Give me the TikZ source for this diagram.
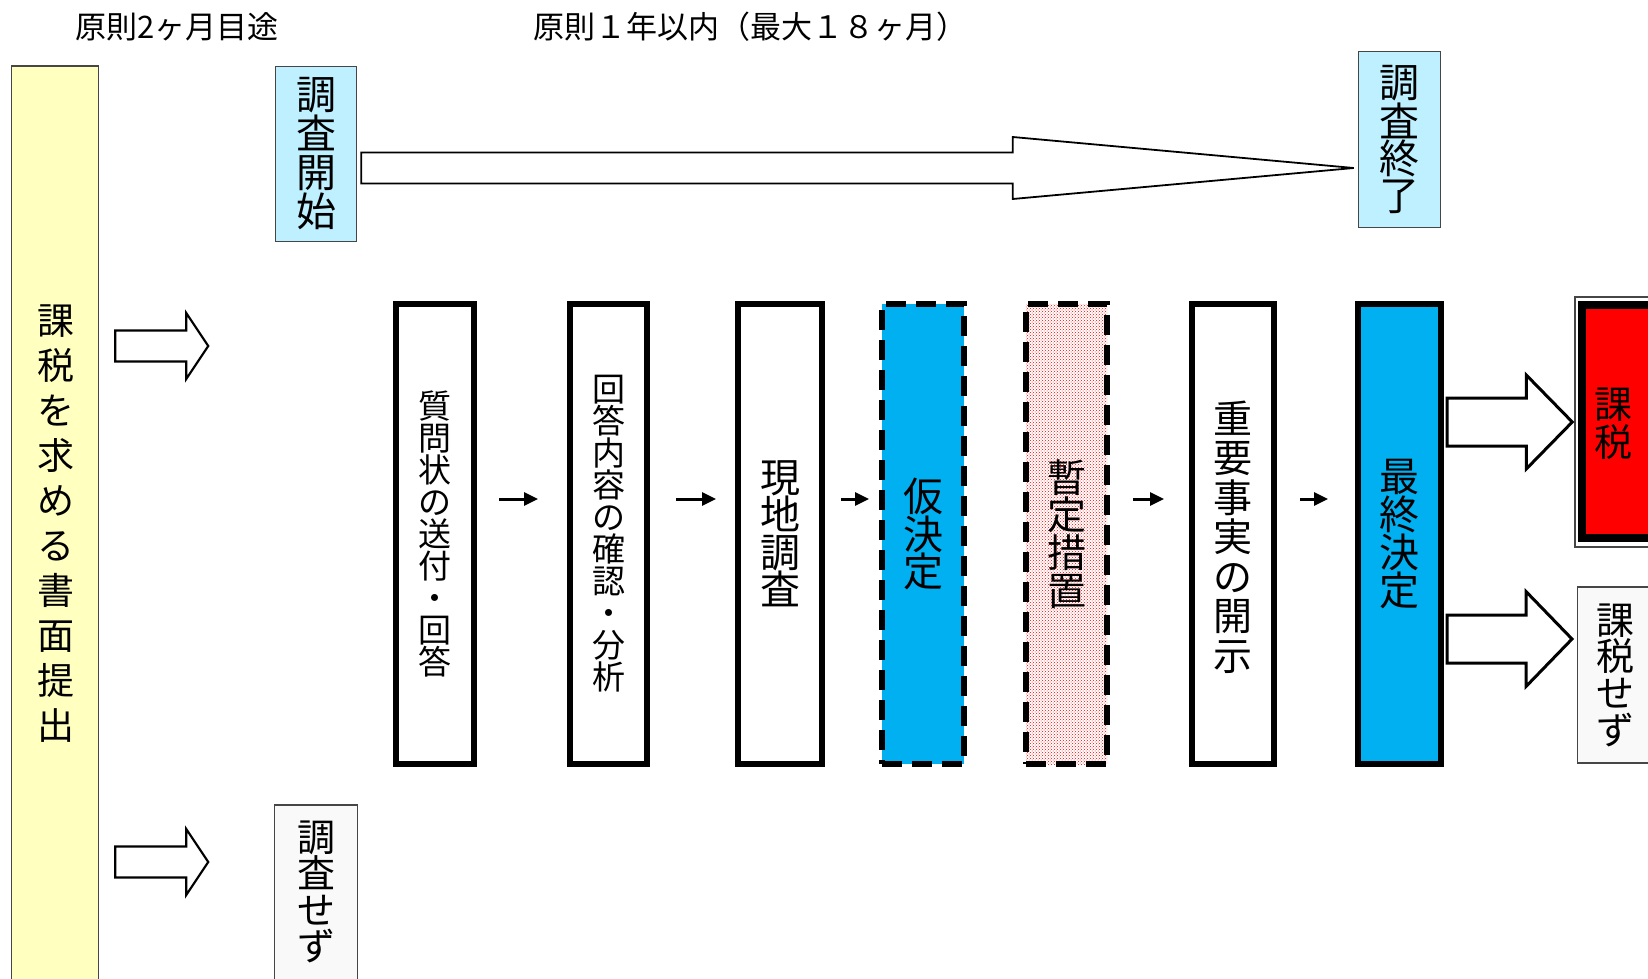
\documentclass[tikz,border=0pt]{standalone}
\usepackage{fontspec}
\setmainfont{Noto Sans CJK JP}
\usetikzlibrary{calc,arrows.meta,patterns}
\definecolor{ybox}{RGB}{255,255,192}
\definecolor{lblue}{RGB}{191,240,255}
\definecolor{dblue}{RGB}{0,176,240}
\definecolor{gfill}{RGB}{249,249,249}
\definecolor{edge}{RGB}{70,70,70}
\newcommand\vfs[2]{\fontsize{#1pt}{#2pt}\selectfont}
\newcommand\barr[6]{\draw[barrow,line width=#6] ($(#1)+(0,-#3)$) -- ($(#2)+(-#5,-#3)$) -- ($(#2)+(-#5,-#4)$) -- (#2) -- ($(#2)+(-#5,#4)$) -- ($(#2)+(-#5,#3)$) -- ($(#1)+(0,#3)$) -- cycle;}
\begin{document}
\begin{tikzpicture}[x=1pt,y=-1pt,
  thinbox/.style={draw=edge,line width=1.5pt,inner sep=0pt,align=center},
  proc/.style={draw=black,line width=6pt,inner sep=0pt,minimum height=460pt,align=center,fill=white},
  dbox/.style={proc,dash pattern=on 20pt off 10pt},
  barrow/.style={draw=black,fill=white,line join=miter},
  sarr/.style={line width=3pt,-{Triangle[length=14pt,width=13pt]}},
  lbl/.style={inner sep=0pt,align=center}
]
\useasboundingbox (0,0) rectangle (1648,979);
\clip (0,0) rectangle (1648,979);
\fill[white] (0,0) rectangle (1648,979);

% headers
\node[lbl,font=\vfs{31}{32},anchor=west] (h1) at (75,27) {原則2ヶ月目途};
\node[lbl,font=\vfs{31}{32},anchor=west] (h2) at (533,27) {原則１年以内（最大１８ヶ月）};

% left request box
\node[thinbox,fill=ybox,minimum width=87pt,minimum height=930pt] (req) at (55,531) {};
\node[lbl,font=\vfs{37}{45}] (reqt) at (56,524) {課\\税\\を\\求\\め\\る\\書\\面\\提\\出};

% start / end / no survey
\node[thinbox,fill=lblue,minimum width=81pt,minimum height=175pt,font=\vfs{40}{39}] (start) at (316,154) {調\\査\\開\\始};
\node[thinbox,fill=lblue,minimum width=82pt,minimum height=176pt,font=\vfs{40}{37}] (end) at (1399.5,139.5) {調\\査\\終\\了};
\node[thinbox,fill=gfill,minimum width=83pt,minimum height=190pt] (nos) at (316,900) {};
\node[lbl,font=\vfs{38}{36.5}] (nost) at (316,892) {調\\査\\せ\\ず};

% process boxes
\node[proc,minimum width=78pt,font=\vfs{33}{32}] (b1) at (435,534) {質\\問\\状\\の\\送\\付\\・\\回\\答};
\node[proc,minimum width=77pt,font=\vfs{33}{32}] (b2) at (608.5,534) {回\\答\\内\\容\\の\\確\\認\\・\\分\\析};
\node[proc,minimum width=84pt,font=\vfs{40}{37.5}] (b3) at (780,534) {現\\地\\調\\査};
\node[dbox,fill=dblue,minimum width=82pt,font=\vfs{40}{36.5}] (kari) at (923,534) {仮\\決\\定};
\node[dbox,fill=none,preaction={fill=white},pattern=crosshatch dots,pattern color=red,minimum width=81pt] (zan) at (1066.5,534) {};
\node[lbl,font=\vfs{39}{37.7}] (zant) at (1066.5,534) {暫\\定\\措\\置};
\node[proc,minimum width=82pt] (juyo) at (1233,534) {};
\node[lbl,font=\vfs{39}{39.5}] (juyot) at (1233,537) {重\\要\\事\\実\\の\\開\\示};
\node[proc,fill=dblue,minimum width=83pt,font=\vfs{40}{38}] (sai) at (1399.5,534) {最\\終\\決\\定};

% outcomes
\node[draw=edge,line width=1.5pt,minimum width=130pt,minimum height=250pt,inner sep=0pt] (taxf) at (1640,422) {};
\node[draw=black,line width=8pt,fill=red,minimum width=110pt,minimum height=233pt,inner sep=0pt] (tax) at (1637,421.5) {};
\node[lbl,font=\vfs{38}{38}] (taxt) at (1613,424) {課\\税};
\node[thinbox,fill=gfill,minimum width=75pt,minimum height=176pt,font=\vfs{38}{36.7}] (notax) at (1615,675) {課\\税\\せ\\ず};

% block arrows
\coordinate (t0) at ($(start.east)+(4,14)$);
\coordinate (t1) at ($(end.west)+(-4,28.5)$);
\barr{t0}{t1}{15.5}{31}{341}{1.8pt}
\coordinate (l0) at ($(req.east)+(16,-185)$);
\coordinate (l1) at ($(req.east)+(109,-185)$);
\barr{l0}{l1}{15.5}{33}{22}{2.2pt}
\coordinate (m0) at ($(req.east)+(16,331)$);
\coordinate (m1) at ($(req.east)+(109,331)$);
\barr{m0}{m1}{15.5}{33}{22}{2.2pt}
\coordinate (r0) at ($(sai.east)+(3,-112)$);
\coordinate (r1) at ($(taxf.west)+(-2,0)$);
\barr{r0}{r1}{24}{47}{46}{3pt}
\coordinate (s0) at ($(sai.east)+(3,105)$);
\coordinate (s1) at ($(notax.west)+(-4.75,-36)$);
\barr{s0}{s1}{24}{47.5}{46}{3pt}

% small arrows
\draw[sarr] ([xshift=22pt,yshift=35pt]b1.east) -- ([xshift=-29pt,yshift=35pt]b2.west);
\draw[sarr] ([xshift=26pt,yshift=35pt]b2.east) -- ([xshift=-19pt,yshift=35pt]b3.west);
\draw[sarr] ([xshift=16pt,yshift=35pt]b3.east) -- ([xshift=-10pt,yshift=35pt]kari.west);
\draw[sarr] ([xshift=23pt,yshift=35pt]zan.east) -- ([xshift=-25pt,yshift=35pt]juyo.west);
\draw[sarr] ([xshift=23pt,yshift=35pt]juyo.east) -- ([xshift=-27pt,yshift=35pt]sai.west);
\end{tikzpicture}
\end{document}
